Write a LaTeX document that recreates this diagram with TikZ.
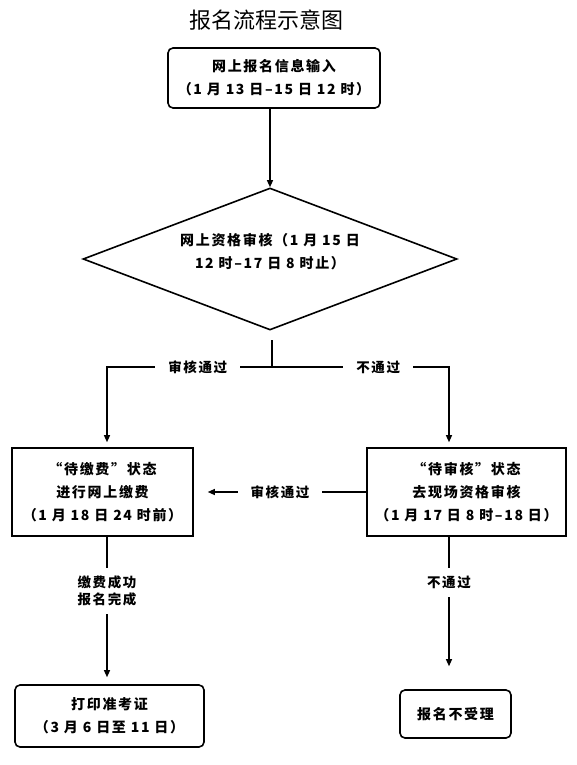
\documentclass[tikz,border=0pt]{standalone}
\usepackage{fontspec}
\setmainfont{Noto Sans CJK SC}
\newfontfamily\cjkb[LetterSpace=12]{Noto Sans CJK SC}
\usetikzlibrary{arrows.meta,shapes.geometric}
\begin{document}
\begin{tikzpicture}[x=1pt,y=-1pt,
  txt/.style={align=center, font=\cjkb\bfseries\fontsize{14}{23}\selectfont, inner sep=0pt},
  box/.style={txt, draw, line width=1.6pt},
  rbox/.style={box, rounded corners=5pt},
  conn/.style={line width=1.2pt},
  arr/.style={conn, -{Triangle[length=7pt,width=6pt]}},
  lab/.style={fill=white, font=\cjkb\bfseries\fontsize{13.5}{17}\selectfont, align=center, inner xsep=13pt, inner ysep=2pt},
  vlab/.style={lab, inner xsep=2pt, inner ysep=8pt}]
\useasboundingbox (0,0) rectangle (577,765);
\node[font=\fontsize{22}{22}\selectfont, inner sep=0pt] (title) at (266,20) {报名流程示意图};
\node[rbox, minimum width=212pt, minimum height=60pt] (b1) at (274,78) {网上报名信息输入\\（1 月 13 日–15 日 12 时）};
\node[draw, diamond, line width=1.6pt, minimum width=374pt, minimum height=142pt, inner sep=0pt] (dia) at (270,259) {};
\node[txt] (dt) at (270,252) {网上资格审核（1 月 15 日\\12 时–17 日 8 时止）};
\coordinate (jt) at (272,340);
\coordinate (j) at (272,367);
\coordinate (L) at (107,367);
\coordinate (R) at (449,367);
\node[box, minimum width=181pt, minimum height=88pt] (b2) at (102.5,492) {“待缴费”状态\\进行网上缴费\\（1 月 18 日 24 时前）};
\node[box, minimum width=199pt, minimum height=88pt] (b3) at (466.5,492) {“待审核”状态\\去现场资格审核\\（1 月 17 日 8 时–18 日）};
\node[rbox, minimum width=189pt, minimum height=62pt] (b4) at (109.5,716) {打印准考证\\（3 月 6 日至 11 日）};
\node[rbox, minimum width=111pt, minimum height=48pt] (b5) at (455.5,714) {报名不受理};
\draw[arr] (dia.north |- b1.south) -- (dia.north);
\draw[conn] (jt) -- (j);
\draw[arr, shorten >=5pt] (j) -- node[lab, pos=0.45]{审核通过} (L) -- (L |- b2.north);
\draw[arr, shorten >=5pt] (j) -- node[lab, pos=0.6]{不通过} (R) -- (R |- b3.north);
\draw[arr, shorten >=14pt] (b3.west) -- node[lab]{审核通过} (b2.east);
\draw[arr, shorten >=7pt] (L |- b2.south) -- node[vlab, pos=0.37]{缴费成功\\报名完成} (L |- b4.north);
\draw[arr, shorten >=23pt] (R |- b3.south) -- node[vlab, pos=0.3]{不通过} (R |- b5.north);
\end{tikzpicture}
\end{document}
